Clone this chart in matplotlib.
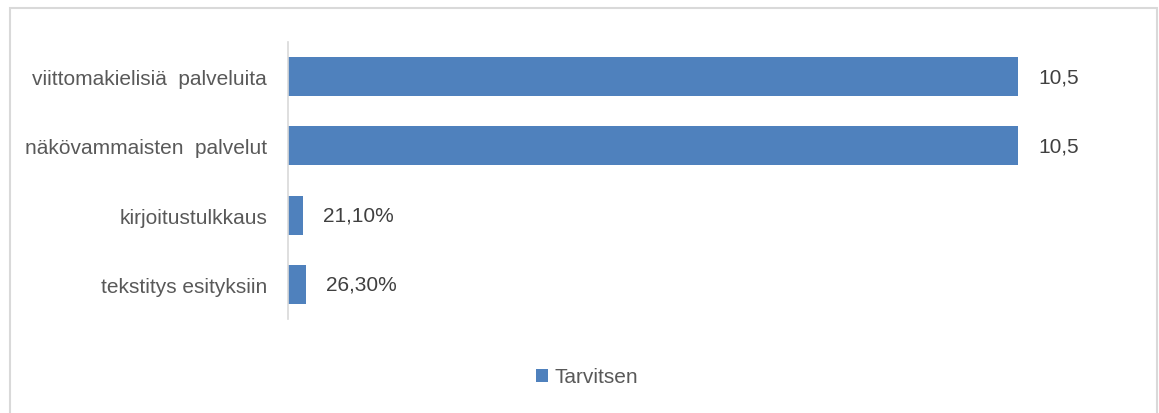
import matplotlib
matplotlib.use("Agg")
from matplotlib import pyplot as plt
from matplotlib.patches import Rectangle

# data
categories = ["viittomakielisiä  palveluita", "näkövammaisten  palvelut",
              "kirjoitustulkkaus", "tekstitys esityksiin"]
values = [10.5, 10.5, 0.211, 0.263]
value_labels = ["10,5", "10,5", "21,10%", "26,30%"]
series_name = "Tarvitsen"

plt.rcParams['font.family'] = ['Liberation Sans', 'DejaVu Sans']

W, H = 1159, 414
fig = plt.figure(figsize=(W / 100, H / 100), dpi=100)

# outer chart border
fig.patches.append(Rectangle((9.5 / W, -0.1), (1156.5 - 9.5) / W, 1.1 - 8.5 / H,
                             transform=fig.transFigure, fill=False,
                             edgecolor='#d9d9d9', linewidth=1.5))

ax = fig.add_axes([288 / W, (H - 320) / H, 730 / W, 277 / H])
bar_color = '#4f81bd'
ypos = list(range(len(categories)))
bars = ax.barh(ypos, values, height=0.56, color=bar_color, label=series_name)
ax.set_ylim(3.5, -0.5)
ax.set_xlim(0, 10.5)
ax.set_yticks(ypos)
ax.set_yticklabels(categories, fontsize=15, color='#595959')
ax.tick_params(axis='y', length=0, pad=15)
ax.set_xticks([])
for s in ['top', 'right', 'bottom']:
    ax.spines[s].set_visible(False)
ax.spines['left'].set_color('#d9d9d9')
ax.spines['left'].set_linewidth(1.2)

for y, v, lab in zip(ypos, values, value_labels):
    ax.annotate(lab, (v, y), xytext=(20, 0), textcoords='offset pixels',
                va='center', ha='left', fontsize=15, color='#404040')

fig.legend(handles=[bars], labels=[series_name], loc='center',
           bbox_to_anchor=(587 / W, 1 - 378 / H), frameon=False,
           fontsize=15, handlelength=0.6, handleheight=0.6, handletextpad=0.3,
           labelcolor='#595959')

fig.savefig("out.png", dpi=100)
